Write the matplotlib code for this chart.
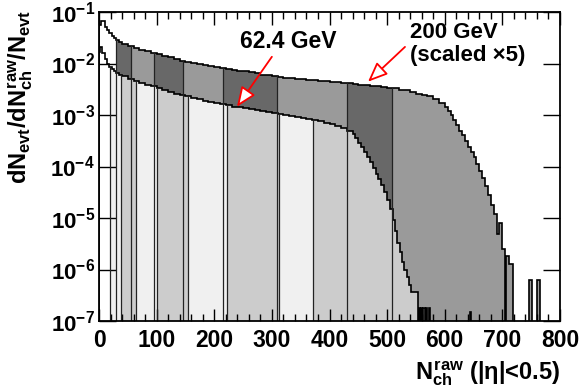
import numpy as np
import matplotlib
matplotlib.use("Agg")
import matplotlib.pyplot as plt
from matplotlib.ticker import MultipleLocator, LogLocator, FixedLocator, FixedFormatter, NullFormatter

plt.rcParams['font.family'] = ['Liberation Sans', 'DejaVu Sans']
plt.rcParams['font.weight'] = 'bold'
plt.rcParams['mathtext.fontset'] = 'custom'
plt.rcParams['mathtext.rm'] = 'Liberation Sans:bold'
plt.rcParams['mathtext.it'] = 'Liberation Sans:bold'
plt.rcParams['mathtext.bf'] = 'Liberation Sans:bold'
plt.rcParams['mathtext.sf'] = 'Liberation Sans:bold'

# 200 GeV (scaled x5) histogram
u_edges = np.concatenate([[0, 3, 10, 14, 18, 22, 26, 30, 35],
                          np.arange(40, 600, 10), np.arange(600, 700, 5),
                          [700, 704, 706, 712, 718, 746, 752, 760, 766, 800]])
u_vals = np.array([
    0.055, 0.067, 0.052, 0.045, 0.039, 0.034, 0.031, 0.028, 0.026,
    0.0240, 0.0215, 0.0197, 0.0184, 0.0173, 0.0163, 0.0151, 0.0141, 0.0131, 0.0122,
    0.0114, 0.0108, 0.0102, 0.0098, 0.0094, 0.0090, 0.0086, 0.0083, 0.0079, 0.0076,
    0.0073, 0.0070, 0.0067, 0.0064, 0.0061, 0.0059, 0.0056, 0.0054, 0.0053, 0.0052,
    0.0051, 0.0050, 0.0048, 0.0047, 0.0046, 0.0045, 0.0044, 0.0043, 0.0042, 0.0041,
    0.0040, 0.0039, 0.0038, 0.0037, 0.0036, 0.0035, 0.0034, 0.0033, 0.0031, 0.0030,
    0.0028, 0.0026, 0.0025, 0.0023, 0.0020, 0.0017,
    0.0014, 0.0012, 0.00098, 0.00080, 0.00063, 0.00050, 0.00040, 0.00031, 0.00024, 0.00019,
    0.00015, 0.00011, 8.0e-5, 6.0e-5, 4.2e-5, 2.8e-5, 1.8e-5, 1.2e-5, 5e-6, 8e-6,
    2.5e-6, 0, 1.8e-6, 1.3e-6, 0, 6.3e-7, 0, 6.3e-7, 0])

# 62.4 GeV histogram
l_edges = np.concatenate([[0, 2, 6, 10, 14, 18, 22, 26, 30, 35],
                          np.arange(40, 440, 10), np.arange(440, 510, 5),
                          [510, 514, 518, 522, 526, 530, 534, 538, 542, 546, 550, 553, 555,
                           557, 559, 561, 563, 565, 567, 569, 572, 575, 643, 646, 800]])
l_vals = np.array([
    0.017, 0.021, 0.016, 0.0125, 0.0100, 0.0086, 0.0077, 0.0070, 0.0065, 0.0060,
    0.0056, 0.0050, 0.0046, 0.0042, 0.0039, 0.0036, 0.0033, 0.0030, 0.0028, 0.0026,
    0.0024, 0.0023, 0.0021, 0.0020, 0.0019, 0.0018, 0.0017, 0.0016, 0.00153, 0.00146,
    0.00140, 0.00134, 0.00128, 0.00123, 0.00118, 0.00114, 0.00110, 0.00105, 0.00100, 0.00096,
    0.00092, 0.00088, 0.00084, 0.00080, 0.00076, 0.00071, 0.00066, 0.00062, 0.00056, 0.00049,
    0.00043, 0.00036, 0.00029, 0.00024, 0.00019, 0.00015, 0.00012, 9.3e-5, 7.2e-5, 5.6e-5,
    4.3e-5, 3.2e-5, 2.2e-5, 1.5e-5,
    9e-6, 5.5e-6, 3.3e-6, 2.2e-6, 1.4e-6, 1.0e-6, 7e-7, 5e-7, 3.7e-7, 3.7e-7, 3.7e-7,
    0, 1.8e-7, 0, 1.8e-7, 0, 1.8e-7, 0, 1.8e-7, 0, 1.8e-7, 0, 1.5e-7, 0])

# centrality cuts
u_cuts = [0, 29.5, 55.6, 95.5, 146, 215, 309, 430.5, 508.7, 800]
l_cuts = [0, 19, 38, 64, 101, 155, 222, 312, 372, 800]

u_colors = ['white', '#686868', '#9a9a9a', '#686868', '#9a9a9a', '#686868', '#9a9a9a', '#686868', '#9a9a9a']
l_colors = ['white', '#f0f0f0', '#cccccc', '#f0f0f0', '#cccccc', '#f0f0f0', '#cccccc', '#f0f0f0', '#cccccc']

FLOOR = 1e-9


def clip_hist(edges, vals, a, b):
    inner = edges[(edges > a) & (edges < b)]
    e = np.concatenate([[a], inner, [b]])
    idx = np.searchsorted(edges, e[:-1], side='right') - 1
    return e, vals[idx]


def value_at(edges, vals, x):
    i = np.searchsorted(edges, x, side='right') - 1
    return vals[min(i, len(vals) - 1)]


def draw_hist(ax, edges, vals, cuts, colors):
    vals = np.maximum(vals, FLOOR)
    for a, b, c in zip(cuts[:-1], cuts[1:], colors):
        e, v = clip_hist(edges, vals, a, b)
        ax.stairs(v, e, baseline=FLOOR, fill=True, color=c, lw=0)
    for x in cuts[1:-1]:
        ax.plot([x, x], [FLOOR, value_at(edges, vals, x)], color='#222222', lw=0.9)
    ax.stairs(vals, edges, baseline=FLOOR, fill=False, color='black', lw=1.2)


fig = plt.figure(figsize=(5.81, 3.88), dpi=100)
ax = fig.add_axes([99 / 581, 1 - 321 / 388, 461 / 581, 309 / 388])

draw_hist(ax, u_edges, u_vals, u_cuts, u_colors)
draw_hist(ax, l_edges, l_vals, l_cuts, l_colors)

ax.set_yscale('log')
ax.set_xlim(0, 800)
ax.set_ylim(1e-7, 1e-1)

ax.xaxis.set_major_locator(MultipleLocator(100))
ax.xaxis.set_minor_locator(MultipleLocator(20))
ax.yaxis.set_major_locator(FixedLocator([10.0 ** k for k in range(-7, 0)]))
ax.yaxis.set_minor_locator(LogLocator(base=10, subs=np.arange(2, 10)))
ax.yaxis.set_minor_formatter(NullFormatter())
ax.yaxis.set_major_formatter(FixedFormatter([r'$10^{%d}$' % k for k in range(-7, 0)]))

ax.tick_params(which='both', direction='in', top=True, right=True, width=1.0)
ax.tick_params(axis='x', which='major', length=9, labelsize=16.5, pad=6)
ax.tick_params(axis='x', which='minor', length=5)
ax.tick_params(axis='y', which='major', length=12, labelsize=16, pad=3)
ax.tick_params(axis='y', which='minor', length=6)
for lab in ax.get_xticklabels():
    lab.set_fontweight('bold')
for s in ax.spines.values():
    s.set_linewidth(1.3)

# annotations
arrow = dict(arrowstyle='-|>,head_length=0.6,head_width=0.25', fc='white', ec='red',
             lw=1.3, shrinkA=0, shrinkB=0, mutation_scale=20)
ax.annotate('', xy=(239.5, 0.00145), xytext=(300, 0.0135), arrowprops=arrow)
ax.annotate('', xy=(466.8, 0.00443), xytext=(531, 0.021), arrowprops=arrow)
ax.text(328, 0.0263, '62.4 GeV', ha='center', va='center', fontsize=16.5, fontweight='bold')
ax.text(540, 0.0393, '200 GeV', ha='left', va='center', fontsize=16, fontweight='bold')
ax.text(540, 0.0141, '(scaled \u00d75)', ha='left', va='center', fontsize=16, fontweight='bold')

fig.text(21 / 581, 1 - 10 / 388, r'$dN_{evt}/dN_{ch}^{raw}/N_{evt}$', rotation=90,
         ha='center', va='top', fontsize=17)
fig.text(560 / 581, 1 - 379 / 388, '$N_{ch}^{raw}$ (|\u03b7|<0.5)', ha='right',
         va='baseline', fontsize=17, fontweight='bold')

fig.savefig('out.png', dpi=100)
